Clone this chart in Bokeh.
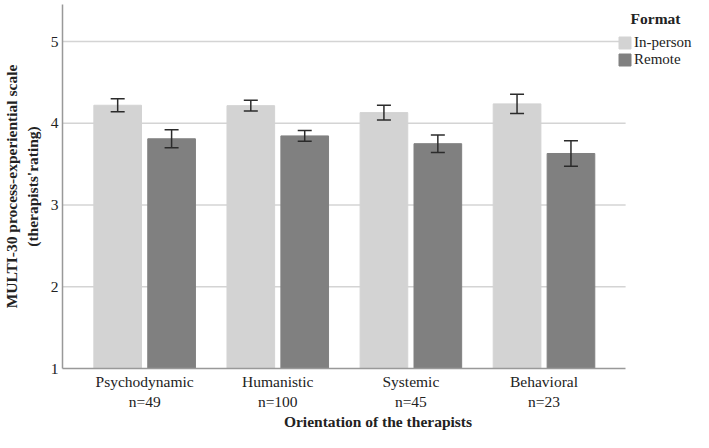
from bokeh.plotting import figure
from bokeh.models import (ColumnDataSource, Range1d, FixedTicker, Whisker, TeeHead,
                          Legend, LegendItem, Label)
from bokeh.embed import file_html
from bokeh.resources import INLINE

# ---- data ----
categories = ["Psychodynamic", "Humanistic", "Systemic", "Behavioral"]
group_sizes = ["n=49", "n=100", "n=45", "n=23"]
inperson_mean = [4.22, 4.215, 4.13, 4.237]
inperson_err = [0.08, 0.065, 0.09, 0.117]
remote_mean = [3.81, 3.845, 3.75, 3.63]
remote_err = [0.11, 0.065, 0.107, 0.155]
y_ticks = [1, 2, 3, 4, 5]
grid_values = [2, 3, 4, 5]

FONT = "Liberation Serif"
LIGHT = "#d3d3d3"
DARK = "#808080"
TXT = "#222222"

idx = [i + 1 for i in range(len(categories))]
off = 0.2025
bw = 0.358
X0, X1 = 0.383, 4.613          # extent of the plotting area (axis / grid)
XEND = 5.123                   # frame continues to the right for the legend
YMAX = 5.4526

src_in = ColumnDataSource(dict(
    x=[i - off for i in idx], top=inperson_mean,
    upper=[m + e for m, e in zip(inperson_mean, inperson_err)],
    lower=[m - e for m, e in zip(inperson_mean, inperson_err)]))
src_re = ColumnDataSource(dict(
    x=[i + off for i in idx], top=remote_mean,
    upper=[m + e for m, e in zip(remote_mean, remote_err)],
    lower=[m - e for m, e in zip(remote_mean, remote_err)]))

p = figure(width=693, height=432, output_backend="svg", toolbar_location=None,
           x_range=Range1d(X0, XEND), y_range=Range1d(1, YMAX),
           min_border_left=61, min_border_bottom=64, min_border_top=4,
           min_border_right=0)
p.outline_line_color = None
p.background_fill_color = "white"

# horizontal grid lines, limited to the plotting area
p.segment(x0=[X0] * len(grid_values), x1=[X1] * len(grid_values),
          y0=grid_values, y1=grid_values, line_color="#d4d4d4", line_width=1.3)

r_in = p.vbar(x="x", top="top", bottom=1, width=bw, source=src_in,
              fill_color=LIGHT, line_color=LIGHT)
r_re = p.vbar(x="x", top="top", bottom=1, width=bw, source=src_re,
              fill_color=DARK, line_color=DARK)

for src in (src_in, src_re):
    w = Whisker(source=src, base="x", upper="upper", lower="lower",
                line_color="#2b2b2b", line_width=1.5, level="overlay",
                upper_head=TeeHead(size=14, line_color="#2b2b2b", line_width=1.5),
                lower_head=TeeHead(size=14, line_color="#2b2b2b", line_width=1.5))
    p.add_layout(w)

# axes
p.xaxis.ticker = FixedTicker(ticks=idx)
p.xaxis.major_label_overrides = {i: f"{c}\n{n}" for i, c, n in zip(idx, categories, group_sizes)}
p.xaxis.bounds = (X0, X1)
p.yaxis.ticker = FixedTicker(ticks=y_ticks)
for ax in (p.xaxis, p.yaxis):
    ax.axis_line_color = "#999999"
    ax.axis_line_width = 1.5
    ax.major_tick_line_color = None
    ax.minor_tick_line_color = None
    ax.major_tick_out = 0
    ax.major_tick_in = 0
    ax.minor_tick_out = 0
    ax.major_label_text_font = FONT
    ax.major_label_text_font_size = "15.5px"
    ax.major_label_text_color = TXT
    ax.axis_label_text_font = FONT
    ax.axis_label_text_font_size = "15.5px"
    ax.axis_label_text_font_style = "bold"
    ax.axis_label_text_color = TXT
p.xaxis.major_label_standoff = 4
p.yaxis.major_label_standoff = 4
p.xaxis.axis_label = "Orientation of the therapists"
p.xaxis.axis_label_standoff = 0
p.yaxis.axis_label = "MULTI-30 process-experiential scale\n(therapists'rating)"
p.yaxis.axis_label_standoff = 7

p.xgrid.grid_line_color = None
p.ygrid.grid_line_color = None

legend = Legend(items=[LegendItem(label="In-person", renderers=[r_in]),
                       LegendItem(label="Remote", renderers=[r_re])],
                location=(555, 300))
legend.label_text_font = FONT
legend.label_text_font_size = "15px"
legend.label_text_color = TXT
legend.glyph_width = 15
legend.glyph_height = 15
legend.label_standoff = 2
legend.spacing = 0
legend.padding = 0
legend.margin = 0
legend.border_line_color = None
legend.background_fill_alpha = 0
p.add_layout(legend, "center")

p.add_layout(Label(x=4.838, y=5.281, text="Format", text_align="center",
                   text_baseline="middle", text_font=FONT, text_font_size="15.5px",
                   text_font_style="bold", text_color=TXT))

open("out.html", "w").write(file_html(p, INLINE))
